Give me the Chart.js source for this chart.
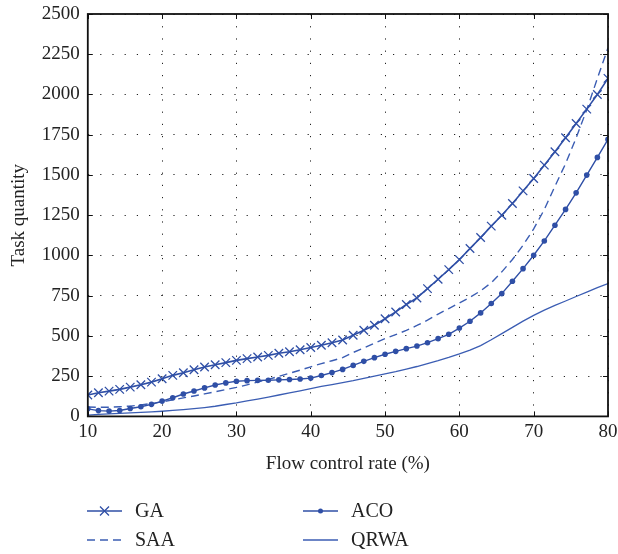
<!DOCTYPE html>
<html>
<head>
<meta charset="utf-8">
<script src="https://cdn.jsdelivr.net/npm/chart.js@4.4.0/dist/chart.umd.min.js"></script>
<style>
html,body{margin:0;padding:0;background:#fff;}
#wrap{width:618px;height:554px;}
</style>
</head>
<body>
<div id="wrap"><canvas id="chart" width="618" height="554"></canvas></div>
<script>
// flow control rate (%), 50 samples from 10 to 80
var flow_rate=[10,11.43,12.86,14.29,15.71,17.14,18.57,20,21.43,22.86,24.29,25.71,27.14,28.57,
  30,31.43,32.86,34.29,35.71,37.14,38.57,40,41.43,42.86,44.29,45.71,47.14,48.57,
  50,51.43,52.86,54.29,55.71,57.14,58.57,60,61.43,62.86,64.29,65.71,67.14,68.57,
  70,71.43,72.86,74.29,75.71,77.14,78.57,80];

var ga_vals=[133,147,157,168,182,197,213,234,255,271,290,307,321,334,
  348,359,369,379,392,402,414,428,442,458,475,504,535,566,
  607,649,695,736,794,852,912,974,1043,1111,1182,1250,1323,1401,
  1478,1561,1644,1731,1820,1909,2000,2100];

var aco_vals=[47,36,33,37,49,60,75,95,116,139,158,177,195,208,
  218,222,224,225,227,229,232,238,254,272,292,317,342,365,
  386,404,421,437,458,483,510,549,591,643,701,763,840,918,
  1001,1090,1188,1286,1389,1499,1609,1721];

var saa_vals=[58,57,57,60,64,71,80,90,103,115,127,140,153,167,
  180,196,213,230,249,268,287,308,328,346,365,397,425,455,
  483,508,534,565,598,636,670,705,740,780,830,898,975,1063,
  1165,1285,1430,1570,1730,1905,2100,2290];

var qrwa_vals=[8,12,16,19,22,25,28,32,37,42,48,55,63,74,
  84,96,108,120,133,146,159,172,186,198,210,222,236,250,
  264,278,294,310,328,346,366,388,412,440,476,514,553,592,
  628,660,690,717,745,772,800,825];

var x_ticks=[10,20,30,40,50,60,70,80];
var y_ticks=[0,250,500,750,1000,1250,1500,1750,2000,2250,2500];

var series_names=['GA','ACO','SAA','QRWA'];

function pts(vals){
  var out=[];
  for(var i=0;i<flow_rate.length;i++){
    out.push({x:flow_rate[i],y:vals[i]});
  }
  return out;
}

var font_family='"Liberation Serif","DejaVu Serif",serif';
var text_col='#222';

// frame + inward ticks
var framePlugin={
  id:'frame',
  afterDatasetsDraw:function(chart){
    var ctx=chart.ctx, a=chart.chartArea;
    var xs=chart.scales.x, ys=chart.scales.y;
    ctx.save();
    ctx.strokeStyle='#111';
    ctx.lineWidth=1;
    ctx.beginPath();
    x_ticks.forEach(function(v){
      var px=Math.round(xs.getPixelForValue(v))+0.5;
      ctx.moveTo(px,a.bottom);ctx.lineTo(px,a.bottom-5);
      ctx.moveTo(px,a.top);ctx.lineTo(px,a.top+5);
    });
    y_ticks.forEach(function(v){
      var py=Math.round(ys.getPixelForValue(v))+0.5;
      ctx.moveTo(a.left,py);ctx.lineTo(a.left+5,py);
      ctx.moveTo(a.right,py);ctx.lineTo(a.right-5,py);
    });
    ctx.stroke();
    ctx.lineWidth=1.8;
    ctx.strokeRect(a.left,a.top,a.right-a.left,a.bottom-a.top);
    ctx.restore();
  }
};

// two-column legend under the axis title
var legendPlugin={
  id:'colLegend',
  afterDraw:function(chart){
    var ctx=chart.ctx;
    var spots=[[87,511],[303,511],[87,540],[303,540]];
    ctx.save();
    chart.data.datasets.forEach(function(ds,i){
      var x=spots[i][0], y=spots[i][1];
      ctx.strokeStyle=ds.borderColor;
      ctx.lineWidth=ds.borderWidth;
      ctx.setLineDash(ds.borderDash||[]);
      ctx.beginPath();ctx.moveTo(x,y);ctx.lineTo(x+35,y);ctx.stroke();
      ctx.setLineDash([]);
      var mx=x+17.5;
      if(ds.pointStyle==='crossRot'){
        var r=ds.pointRadius*0.75;
        ctx.lineWidth=1.3;
        ctx.beginPath();
        ctx.moveTo(mx-r,y-r);ctx.lineTo(mx+r,y+r);
        ctx.moveTo(mx-r,y+r);ctx.lineTo(mx+r,y-r);
        ctx.stroke();
      }else if(ds.pointRadius>0){
        ctx.fillStyle=ds.borderColor;
        ctx.beginPath();ctx.arc(mx,y,2.5,0,Math.PI*2);ctx.fill();
      }
      ctx.fillStyle=text_col;
      ctx.font='20px '+font_family;
      ctx.textBaseline='middle';
      ctx.fillText(ds.label,x+48,y+1);
    });
    ctx.restore();
  }
};

var ctx=document.getElementById('chart').getContext('2d');
var myChart=new Chart(ctx,{
  type:'line',
  data:{
    datasets:[
      {label:series_names[0],data:pts(ga_vals),borderColor:'#2f4fa6',borderWidth:1.6,
        pointStyle:'crossRot',pointRadius:6,pointBorderWidth:1.3,pointBorderColor:'#2f4fa6',
        pointBackgroundColor:'#2f4fa6',tension:0,fill:false},
      {label:series_names[1],data:pts(aco_vals),borderColor:'#2f4fa6',borderWidth:1.4,
        pointStyle:'circle',pointRadius:2.8,pointBorderWidth:0,pointBackgroundColor:'#2f4fa6',
        tension:0,fill:false},
      {label:series_names[2],data:pts(saa_vals),borderColor:'#3b5db3',borderWidth:1.4,
        borderDash:[8,5],pointRadius:0,tension:0,fill:false},
      {label:series_names[3],data:pts(qrwa_vals),borderColor:'#3b5db3',borderWidth:1.3,
        pointRadius:0,tension:0,fill:false}
    ]
  },
  options:{
    responsive:false,
    animation:false,
    layout:{padding:{top:14,right:10,left:8,bottom:79}},
    plugins:{legend:{display:false},tooltip:{enabled:false}},
    scales:{
      x:{
        type:'linear',min:10,max:80,
        afterBuildTicks:function(s){s.ticks=x_ticks.map(function(v){return {value:v};});},
        afterFit:function(s){s.paddingLeft=0;s.paddingRight=0;},
        ticks:{color:text_col,font:{family:font_family,size:19},padding:4,maxRotation:0,
          callback:function(v){return String(v);}},
        grid:{color:'#222',lineWidth:1,drawTicks:false},
        border:{display:false,dash:[1.2,11]},
        title:{display:true,text:'Flow control rate (%)',color:text_col,
          font:{family:font_family,size:19},padding:{top:5,bottom:0}}
      },
      y:{
        type:'linear',min:0,max:2500,
        afterBuildTicks:function(s){s.ticks=y_ticks.map(function(v){return {value:v};});},
        afterFit:function(s){s.paddingTop=0;s.paddingBottom=0;},
        ticks:{color:text_col,font:{family:font_family,size:19},padding:8,
          callback:function(v){return String(v);}},
        grid:{color:'#222',lineWidth:1,drawTicks:false},
        border:{display:false,dash:[1.2,11]},
        title:{display:true,text:'Task quantity',color:text_col,
          font:{family:font_family,size:19},padding:{top:0,bottom:3}}
      }
    }
  },
  plugins:[framePlugin,legendPlugin]
});
</script>
</body>
</html>
